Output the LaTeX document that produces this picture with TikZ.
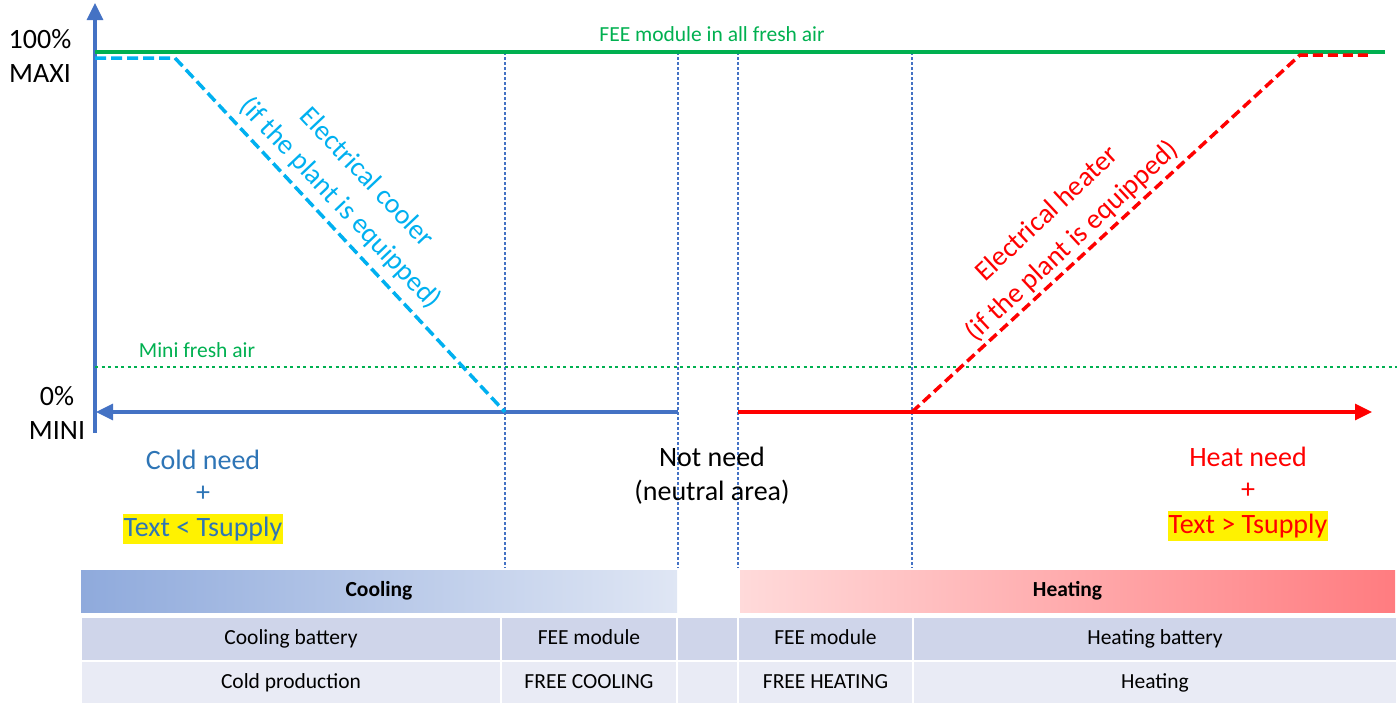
\documentclass[tikz,border=0pt]{standalone}
\usepackage{fontspec}
\setmainfont{Carlito}
\usetikzlibrary{positioning,arrows.meta}
\definecolor{axisblue}{HTML}{4472C4}
\definecolor{freshgreen}{HTML}{00B050}
\definecolor{coolcyan}{HTML}{00B0F0}
\definecolor{needblue}{HTML}{2E75B6}
\definecolor{rowdark}{HTML}{CFD5EA}
\definecolor{rowlight}{HTML}{E9EBF5}
\definecolor{coolleft}{HTML}{8FAADC}
\definecolor{coolright}{HTML}{DFE6F4}
\definecolor{heatleft}{HTML}{FFDADA}
\definecolor{heatright}{HTML}{FF7C80}

\begin{document}
\begin{tikzpicture}[
    x=1pt, y=-1pt,
    >={Triangle[length=17pt,width=16pt]},
    big/.style={font=\fontsize{28}{34}\selectfont, align=center, inner sep=1pt},
    slanted/.style={font=\fontsize{28}{37}\selectfont, align=center, inner sep=1pt},
    small/.style={font=\fontsize{21.5}{26}\selectfont, inner sep=1pt},
    axisline/.style={line width=3.2pt},
    vsep/.style={axisblue, line width=1.2pt, dash pattern=on 3pt off 2pt},
    bar/.style={minimum height=42pt, inner sep=0pt, text height=15pt, text depth=5pt, font=\fontsize{21.5}{26}\bfseries\selectfont},
    cell/.style={draw=white, line width=1.5pt, minimum height=44pt, inner sep=0pt, text height=15pt, text depth=5pt, font=\fontsize{21.5}{26}\selectfont},
    hilite/.style={fill=yellow, inner xsep=1pt, inner ysep=3pt}
  ]
    \useasboundingbox (0,0) rectangle (1397,702);

    % separators between the zones
    \foreach \x in {505,678,738,912}
      \draw[vsep] (\x,52) -- (\x,568);

    % axes
    \coordinate (ybot) at (95,433);
    \coordinate (ytop) at (95,3);
    \coordinate (coldstart) at (678,412);
    \coordinate (coldend) at (96,412);
    \coordinate (heatstart) at (738,412);
    \coordinate (heatend) at (1372,412);
    \draw[axisline, axisblue, ->] (ybot) -- (ytop);
    \draw[axisline, axisblue, ->] (coldstart) -- (coldend);
    \draw[axisline, red, ->] (heatstart) -- (heatend);

    % fresh air limits
    \coordinate (maxl) at (95,52);
    \coordinate (maxr) at (1385,52);
    \coordinate (minl) at (95,367);
    \coordinate (minr) at (1397,367);
    \draw[line width=3.5pt, freshgreen] (maxl) -- (maxr);
    \draw[line width=2.8pt, freshgreen, dash pattern=on 3pt off 3.5pt] (minl) -- (minr);
    \node[small, text=freshgreen] (allfresh) at (712,34) {FEE module in all fresh air};
    \node[small, text=freshgreen] (minifresh) at (197,350) {Mini fresh air};

    % electrical cooler and heater
    \coordinate (c0) at (95,58);
    \coordinate (c1) at (175,58);
    \coordinate (c2) at (505,412);
    \draw[line width=3.5pt, coolcyan, dash pattern=on 11pt off 5pt] (c0) -- (c1) -- (c2);
    \coordinate (h0) at (912,412);
    \coordinate (h1) at (1300,55);
    \coordinate (h2) at (1372,55);
    \draw[line width=3.5pt, red, dash pattern=on 10pt off 5pt] (h0) -- (h1) -- (h2);
    \node[slanted, text=coolcyan, rotate=-46.5] (cooler) at (353,191) {Electrical cooler\\(if the plant is equipped)};
    \node[slanted, text=red, rotate=43] (heater) at (1060,228) {Electrical heater\\(if the plant is equipped)};

    % axis labels
    \node[big] (maxi) at (40,56) {100\%\\MAXI};
    \node[big] (mini) at (57,413) {0\%\\MINI};

    % needs
    \node[big, text=needblue] (coldneed) at (203,460) {Cold need};
    \node[big, text=needblue] (coldplus) at (203,494) {+};
    \node[big, text=needblue, hilite] (coldcond) at (203,529) {Text < Tsupply};
    \node[big] (neutral) at (712,476) {Not need\\(neutral area)};
    \node[big, text=red] (heatneed) at (1248,457) {Heat need};
    \node[big, text=red] (heatplus) at (1248,491) {+};
    \node[big, text=red, hilite] (heatcond) at (1248,526) {Text > Tsupply};

    % table
    \node[bar, minimum width=596pt, left color=coolleft, right color=coolright] (cooling) at (379,591) {Cooling};
    \node[bar, minimum width=655pt, left color=heatleft, right color=heatright] (heating) at (1067.5,591) {Heating};

    \node[cell, fill=rowdark, minimum width=420pt] (cbat) at (291,639) {Cooling battery};
    \node[cell, fill=rowdark, minimum width=176pt] (fee1) at (589,639) {FEE module};
    \node[cell, fill=rowdark, minimum width=61pt] (mid1) at (707.5,639) {};
    \node[cell, fill=rowdark, minimum width=175pt] (fee2) at (825.5,639) {FEE module};
    \node[cell, fill=rowdark, minimum width=484pt] (hbat) at (1155,639) {Heating battery};

    \node[cell, fill=rowlight, minimum width=420pt] (cprod) at (291,683) {Cold production};
    \node[cell, fill=rowlight, minimum width=176pt] (fcool) at (589,683) {FREE COOLING};
    \node[cell, fill=rowlight, minimum width=61pt] (mid2) at (707.5,683) {};
    \node[cell, fill=rowlight, minimum width=175pt] (fheat) at (825.5,683) {FREE HEATING};
    \node[cell, fill=rowlight, minimum width=484pt] (hprod) at (1155,683) {Heating};
  \end{tikzpicture}
\end{document}
